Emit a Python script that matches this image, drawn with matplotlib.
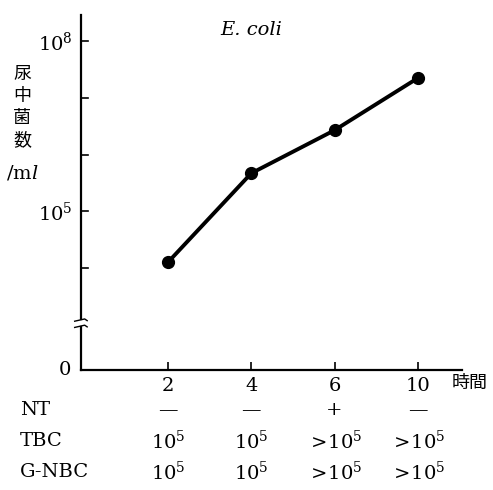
import matplotlib.pyplot as plt
from matplotlib.transforms import blended_transform_factory

plt.rcParams['font.family'] = ['DejaVu Serif', 'Noto Sans CJK JP']
plt.rcParams['mathtext.fontset'] = 'dejavuserif'

hours = ['2', '4', '6', '10']
log_counts = [4.1, 5.67, 6.43, 7.35]   # log10 of bacteria / ml
nt = ['—', '—', '+', '—']
tbc = ['$10^5$', '$10^5$', '$>\\!10^5$', '$>\\!10^5$']
gnbc = ['$10^5$', '$10^5$', '$>\\!10^5$', '$>\\!10^5$']

fig = plt.figure(figsize=(4.93, 4.9), dpi=100)
ax = fig.add_axes([0.1643, 0.245, 0.7727, 0.724])

xs = list(range(1, len(hours) + 1))
ax.plot(xs, log_counts, color='black', lw=2.8, marker='o', markersize=8.5)

ax.set_xlim(-0.044, 4.53)
ax.set_ylim(2.2, 8.46)

for s in ['top', 'right', 'left']:
    ax.spines[s].set_visible(False)
ax.spines['bottom'].set_linewidth(1.6)

# broken y axis
ax.plot([-0.044, -0.044], [2.2, 2.95], color='black', lw=1.6, clip_on=False)
ax.plot([-0.044, -0.044], [3.1, 8.46], color='black', lw=1.6, clip_on=False)
for yb in [2.97, 3.08]:
    ax.plot([-0.12, -0.0, 0.03], [yb - 0.02, yb + 0.02, yb - 0.01], color='black', lw=1.0, clip_on=False)

ax.set_xticks(xs)
ax.set_xticklabels(hours, fontsize=14)
ax.tick_params(axis='x', direction='in', length=6, width=1.2, pad=5)

ax.set_yticks([4, 5, 6, 7, 8])
ax.set_yticklabels(['', '$10^5$', '', '', '$10^8$'], fontsize=14)
ax.tick_params(axis='y', direction='in', length=7, width=1.2, pad=6, left=False)
for yv in [4, 5, 6, 7, 8]:
    ax.plot([-0.044, 0.04], [yv, yv], color='black', lw=1.2, clip_on=False)
ax.text(-0.16, 2.2, '0', fontsize=14, ha='right', va='center')

ax.text(2.0, 8.2, 'E. coli', fontsize=14, style='italic', ha='center', va='center')

# y label (vertical characters)
for i, ch in enumerate('尿中菌数'):
    fig.text(22 / 493, 1 - (74 + 22 * i) / 490, ch, fontsize=13,
             family=['Noto Sans CJK JP'], ha='center', va='center')
fig.text(22 / 493, 1 - 173 / 490, '/m$l$', fontsize=14, ha='center', va='center')

fig.text(470 / 493, 1 - 383 / 490, '時間', fontsize=13,
         family=['Noto Sans CJK JP'], ha='center', va='center')

tr = blended_transform_factory(ax.transData, fig.transFigure)
rows = [('NT', nt, 410), ('TBC', tbc, 441), ('G-NBC', gnbc, 472)]
for name, vals, ypx in rows:
    fig.text(20 / 493, 1 - ypx / 490, name, fontsize=14, ha='left', va='center')
    for x, v in zip(xs, vals):
        ax.text(x, 1 - ypx / 490, v, fontsize=14, ha='center', va='center', transform=tr)

fig.savefig('out.png', dpi=100)
